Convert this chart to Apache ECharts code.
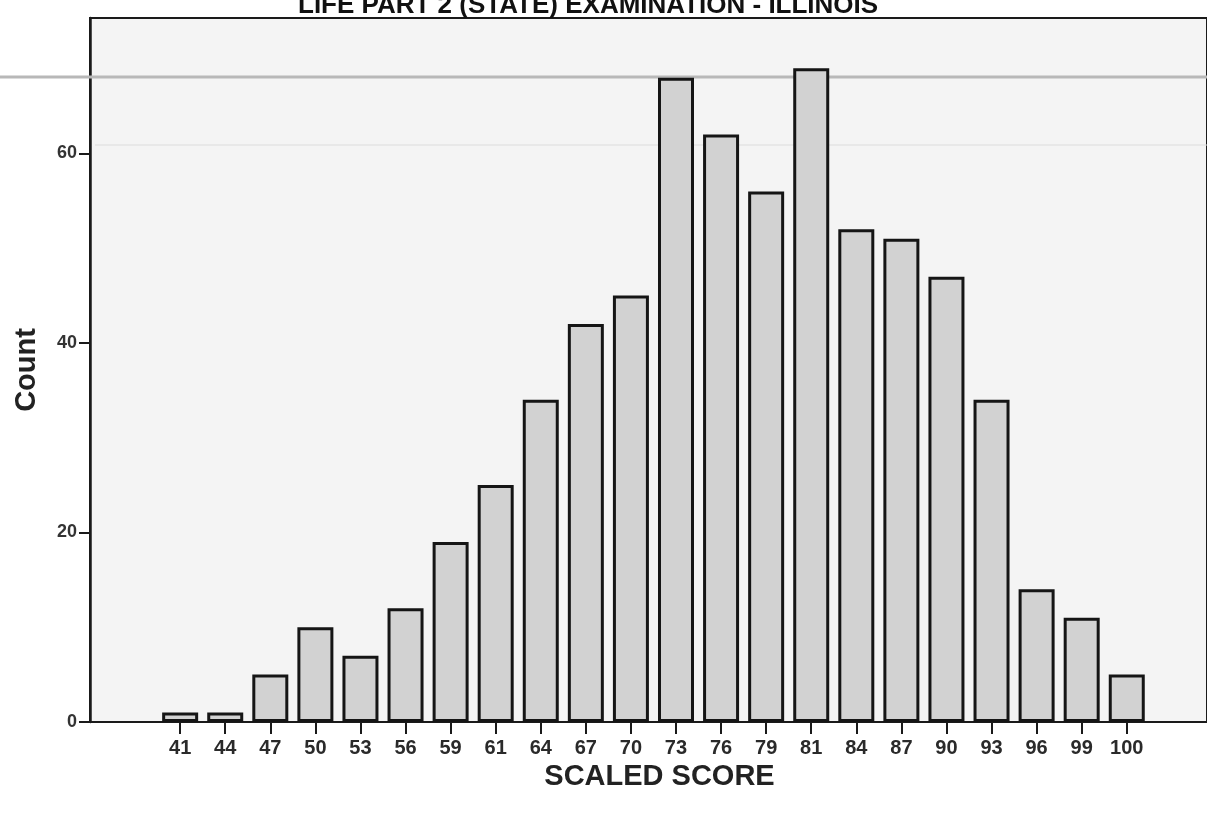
<!DOCTYPE html>
<html>
<head>
<meta charset="utf-8">
<script src="https://cdn.jsdelivr.net/npm/echarts@6/dist/echarts.min.js"></script>
<style>
html,body{margin:0;padding:0;background:#fff;}
#chart{width:1207px;height:814px;}
</style>
</head>
<body>
<div id="chart"></div>
<script>
// ---- data ----
const categories = ['41','44','47','50','53','56','59','61','64','67','70','73','76','79','81','84','87','90','93','96','99','100'];
const counts = [1,1,5,10,7,12,19,25,34,42,45,68,62,56,69,52,51,47,34,14,11,5];
const yTicks = [0,20,40,60];
const titleText = 'LIFE PART 2 (STATE) EXAMINATION - ILLINOIS';
const xName = 'SCALED SCORE';
const yName = 'Count';

const catIdx = categories.map((c, i) => i);
const seriesData = counts.map((v, i) => [i, v]);

const chart = echarts.init(document.getElementById('chart'), null, {renderer: 'canvas'});
const FONT = 'Liberation Sans, Arial, sans-serif';

chart.setOption({
  animation: false,
  backgroundColor: '#ffffff',
  grid: {
    left: 90, top: 18, right: -4, bottom: 92,
    show: true, backgroundColor: '#f4f4f4',
    borderColor: '#1a1a1a', borderWidth: 2
  },
  graphic: [
    {type: 'line', z: 1, shape: {x1: 0, y1: 77, x2: 1207, y2: 77}, style: {stroke: '#b8b8b8', lineWidth: 3}},
    {type: 'line', z: 1, shape: {x1: 95, y1: 145, x2: 1207, y2: 145}, style: {stroke: '#dcdcdc', lineWidth: 1}},
    {type: 'text', z: 10, left: 298, top: -7,
      style: {text: titleText, font: 'bold 26px ' + FONT, fill: '#111'}}
  ],
  xAxis: {
    type: 'value',
    min: -2, max: 22.78,
    interval: 1,
    name: xName,
    nameLocation: 'middle',
    nameGap: 28,
    nameTextStyle: {fontFamily: FONT, fontWeight: 'bold', fontSize: 29, color: '#222', padding: [0, 0, 0, 22]},
    axisLine: {show: true, onZero: false, lineStyle: {color: '#1a1a1a', width: 2}},
    axisTick: {show: true, length: 12, lineStyle: {color: '#1a1a1a', width: 2}, customValues: catIdx},
    axisLabel: {
      customValues: catIdx, margin: 16,
      fontFamily: FONT, fontSize: 20, fontWeight: 'bold', color: '#2a2a2a',
      formatter: v => categories[v] || ''
    },
    splitLine: {show: false}
  },
  yAxis: {
    type: 'value',
    min: 0, max: 74.3,
    interval: 20,
    name: yName,
    nameLocation: 'middle',
    nameGap: 49,
    nameRotate: 90,
    nameTextStyle: {fontFamily: FONT, fontWeight: 'bold', fontSize: 29, color: '#222'},
    axisLine: {show: true, onZero: false, lineStyle: {color: '#1a1a1a', width: 2.5}},
    axisTick: {show: true, length: 11, lineStyle: {color: '#1a1a1a', width: 2}, customValues: yTicks},
    axisLabel: {customValues: yTicks, margin: 13, fontFamily: FONT, fontSize: 18, fontWeight: 'bold', color: '#333'},
    splitLine: {show: false}
  },
  series: [{
    type: 'bar',
    data: seriesData,
    barWidth: 36,
    z: 3,
    itemStyle: {color: '#d2d2d2', borderColor: '#151515', borderWidth: 3}
  }]
});
</script>
</body>
</html>
